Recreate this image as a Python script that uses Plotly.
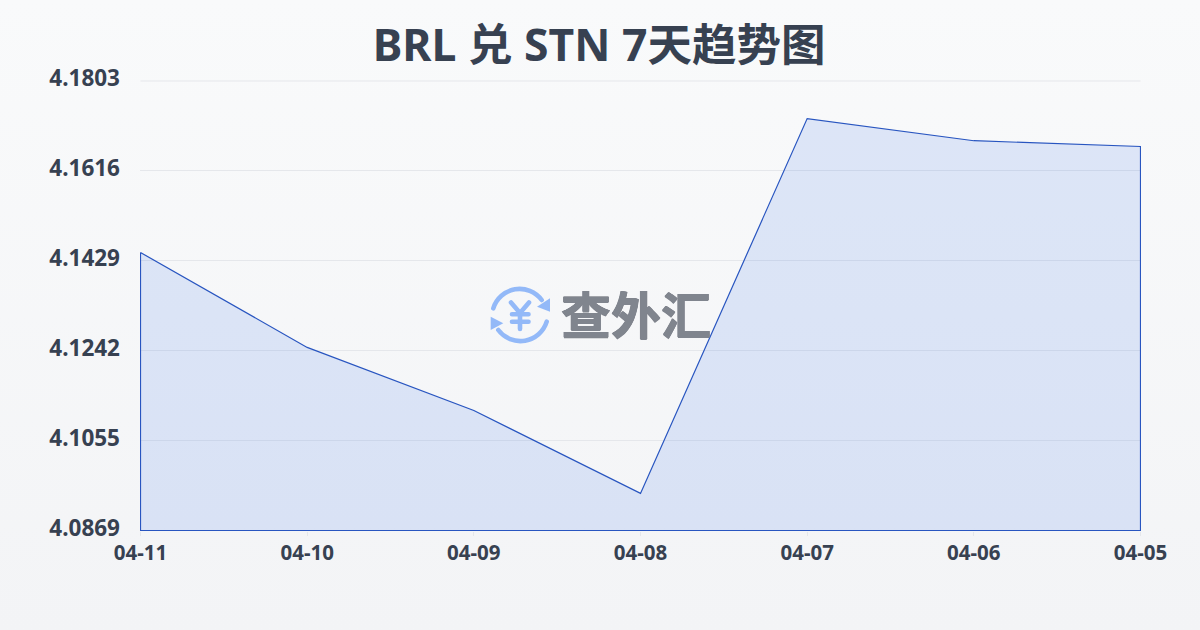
import base64
import plotly.graph_objects as go

dates = ["04-11", "04-10", "04-09", "04-08", "04-07", "04-06", "04-05"]
rates = [4.1446, 4.1249, 4.1118, 4.0946, 4.1724, 4.1678, 4.1666]
y_ticks = [4.0869, 4.10558, 4.12426, 4.14294, 4.16162, 4.1803]
y_labels = ["4.0869", "4.1055", "4.1242", "4.1429", "4.1616", "4.1803"]
title = "BRL 兑 STN 7天趋势图"
logo_text = "查外汇"

FONT = "'Noto Sans', 'Noto Sans CJK SC', sans-serif"
INK = "#374151"
GRID = "#e5e7eb"

def uri(svg):
    return "data:image/svg+xml;base64," + base64.b64encode(svg.encode()).decode()

bg_svg = ('<svg xmlns="http://www.w3.org/2000/svg" width="1200" height="630" preserveAspectRatio="none">'
          '<defs><linearGradient id="g" x1="0" y1="0" x2="0" y2="1">'
          '<stop offset="0" stop-color="#f9fafb"/><stop offset="1" stop-color="#f3f4f6"/>'
          '</linearGradient></defs><rect width="1200" height="630" fill="url(#g)"/></svg>')

icon_svg = ('<svg xmlns="http://www.w3.org/2000/svg" width="60" height="60" viewBox="0 0 60 60">'
            '<g fill="none" stroke="#93b9f8" stroke-width="4.6" stroke-linecap="round" stroke-linejoin="round">'
            '<path d="M3.3 23.3 A27.5 27.5 0 0 1 51.7 15"/>'
            '<path d="M56.7 36.7 A27.5 27.5 0 0 1 8.3 45"/>'
            '<path d="M21 17.5 L30 28 L39 17.5 M30 28 V44 M22 29.3 H38.5 M22 36.7 H38.5"/>'
            '</g><g fill="#93b9f8"><path d="M60 13.3 L60 26.7 L47 21.7 Z"/><path d="M0.7 31.7 L0.7 45 L13.3 38.3 Z"/></g></svg>')

xs = list(range(len(dates)))
baseline = y_ticks[0]

# half-pixel padding on the ranges so 1px lines land on whole pixels
x_pad = (xs[-1] - xs[0]) / 1000 * 0.5
y_pad = (y_ticks[-1] - y_ticks[0]) / 450 * 0.5
PW, PH = 1001, 451

fig = go.Figure()
fig.add_trace(go.Scatter(
    x=xs + [xs[-1], xs[0], xs[0]],
    y=rates + [baseline, baseline, rates[0]],
    mode="lines", fill="toself",
    fillcolor="rgba(37,99,235,0.13)",
    line=dict(color="#2855c0", width=1.2),
    hoverinfo="skip", showlegend=False,
))
fig.update_layout(
    width=1200, height=630,
    margin=dict(l=140, r=59, t=80, b=99),
    paper_bgcolor="rgba(0,0,0,0)", plot_bgcolor="rgba(0,0,0,0)",
    font=dict(family=FONT, color=INK),
    title=dict(text=f"<b>{title}</b>", x=0.4992, xanchor="center", y=0.928, yanchor="middle",
               font=dict(size=44.5, family=FONT, color=INK)),
    xaxis=dict(range=[xs[0] - x_pad, xs[-1] + x_pad], tickmode="array", tickvals=xs, ticktext=dates,
               showgrid=False, zeroline=False, showline=False,
               ticks="outside", ticklen=4, tickcolor=GRID, tickwidth=1,
               tickfont=dict(size=20.5, family=FONT, color=INK, weight="bold")),
    yaxis=dict(range=[y_ticks[0] - y_pad, y_ticks[-1] + y_pad], tickmode="array", tickvals=y_ticks, ticktext=y_labels,
               showgrid=True, gridcolor=GRID, gridwidth=1, zeroline=False, showline=False,
               ticks="", ticklabelstandoff=19,
               tickfont=dict(size=22.5, family=FONT, color=INK, weight="bold")),
    shapes=[dict(type="line", xref="x", x0=xs[0], x1=xs[-1], yref="paper", y0=1-0.5/PH-0.5/PH, y1=1-0.5/PH-0.5/PH,
                 line=dict(color=GRID, width=1), layer="below")],
    images=[
        dict(source=uri(bg_svg), xref="paper", yref="paper", x=-140/PW, y=1+80/PH,
             sizex=1200/PW, sizey=630/PH, sizing="stretch", xanchor="left", yanchor="top", layer="below"),
        dict(source=uri(icon_svg), xref="paper", yref="paper", x=(490-140)/PW, y=1-(285-80)/PH,
             sizex=60/PW, sizey=60/PH, sizing="stretch", xanchor="left", yanchor="top", layer="below"),
    ],
    annotations=[dict(text=f"<b>{logo_text}</b>", xref="paper", yref="paper",
                      x=(636-140)/PW, y=1-(315-80)/PH, xanchor="center", yanchor="middle",
                      showarrow=False,
                      font=dict(size=50, family=FONT, color="#80858e",
                                shadow="0.5px 0 0 #80858e, -0.5px 0 0 #80858e, 0 0.5px 0 #80858e, 0 -0.5px 0 #80858e"))],
)
post = """
document.body.style.margin='0';
document.documentElement.style.overflow='hidden';
setTimeout(function(){
  document.querySelectorAll('.ytick text').forEach(function(t){
    t.setAttribute('y', parseFloat(t.getAttribute('y')) - 2);
  });
  document.querySelectorAll('.xtick text').forEach(function(t){
    t.setAttribute('y', parseFloat(t.getAttribute('y')) - 1);
  });
}, 30);
"""
fig.write_html("out.html", config=dict(displayModeBar=False), post_script=post)
